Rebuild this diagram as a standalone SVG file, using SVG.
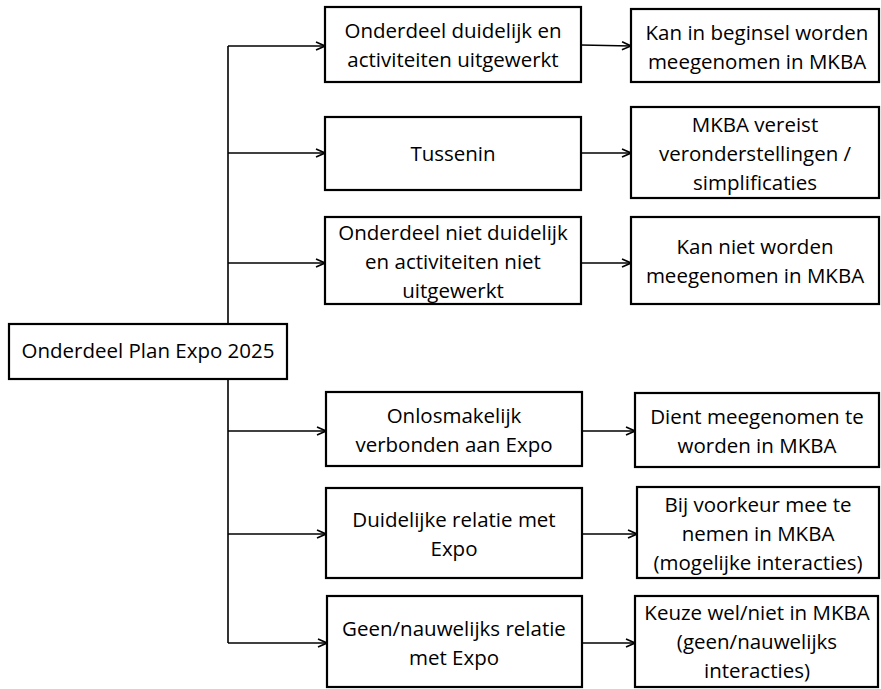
<svg xmlns="http://www.w3.org/2000/svg" width="881" height="689" viewBox="0 0 881 689">
<style>
.box{fill:#fff;stroke:#000;stroke-width:2.2}
.t{font-family:"Open Sans","Noto Sans",sans-serif;font-size:20.5px;fill:#000;text-anchor:middle}
.c{fill:none;stroke:#000;stroke-width:1.6}
</style>
<defs>
<marker id="ah" viewBox="0 0 10 10" refX="10" refY="5" markerWidth="10" markerHeight="10" markerUnits="userSpaceOnUse" orient="auto">
<path d="M1,1 L10,5 L1,9" fill="none" stroke="#000" stroke-width="1.6"/>
</marker>
</defs>
<rect width="881" height="689" fill="#fff"/>
<g id="connectors">
<path class="c" d="M228,46 V643"/>
<path class="c" d="M228,46 H325" marker-end="url(#ah)"/>
<path class="c" d="M228,153 H325" marker-end="url(#ah)"/>
<path class="c" d="M228,263 H325" marker-end="url(#ah)"/>
<path class="c" d="M228,431 H326" marker-end="url(#ah)"/>
<path class="c" d="M228,534 H326" marker-end="url(#ah)"/>
<path class="c" d="M228,643 H327" marker-end="url(#ah)"/>
<path class="c" d="M581,45 L631,46" marker-end="url(#ah)"/>
<path class="c" d="M581,153 H631" marker-end="url(#ah)"/>
<path class="c" d="M581,263 H631" marker-end="url(#ah)"/>
<path class="c" d="M582,431 H635" marker-end="url(#ah)"/>
<path class="c" d="M582,534 H637" marker-end="url(#ah)"/>
<path class="c" d="M582,643 H635" marker-end="url(#ah)"/>
</g>
<g id="root">
<rect class="box" x="9" y="324" width="278" height="55"/>
<text class="t" x="148" y="358">Onderdeel Plan Expo 2025</text>
</g>
<g id="m1">
<rect class="box" x="325" y="7" width="256" height="75"/>
<text class="t" x="453" y="38">Onderdeel duidelijk en</text>
<text class="t" x="453" y="67">activiteiten uitgewerkt</text>
</g>
<g id="m2">
<rect class="box" x="325" y="117" width="256" height="73"/>
<text class="t" x="453" y="161">Tussenin</text>
</g>
<g id="m3">
<rect class="box" x="325" y="217" width="256" height="87"/>
<text class="t" x="453" y="240">Onderdeel niet duidelijk</text>
<text class="t" x="453" y="269">en activiteiten niet</text>
<text class="t" x="453" y="298">uitgewerkt</text>
</g>
<g id="m4">
<rect class="box" x="326" y="392" width="256" height="74"/>
<text class="t" x="454" y="423">Onlosmakelijk</text>
<text class="t" x="454" y="452">verbonden aan Expo</text>
</g>
<g id="m5">
<rect class="box" x="326" y="488" width="256" height="90"/>
<text class="t" x="454" y="527">Duidelijke relatie met</text>
<text class="t" x="454" y="556">Expo</text>
</g>
<g id="m6">
<rect class="box" x="327" y="596" width="255" height="91"/>
<text class="t" x="454" y="636">Geen/nauwelijks relatie</text>
<text class="t" x="454" y="665">met Expo</text>
</g>
<g id="r1">
<rect class="box" x="631" y="9" width="248" height="73"/>
<text class="t" x="757" y="40">Kan in beginsel worden</text>
<text class="t" x="757" y="69">meegenomen in MKBA</text>
</g>
<g id="r2">
<rect class="box" x="631" y="107" width="248" height="91"/>
<text class="t" x="755" y="132">MKBA vereist</text>
<text class="t" x="755" y="161">veronderstellingen /</text>
<text class="t" x="755" y="190">simplificaties</text>
</g>
<g id="r3">
<rect class="box" x="631" y="217" width="248" height="87"/>
<text class="t" x="755" y="254">Kan niet worden</text>
<text class="t" x="755" y="283">meegenomen in MKBA</text>
</g>
<g id="r4">
<rect class="box" x="635" y="393" width="244" height="74"/>
<text class="t" x="757" y="424">Dient meegenomen te</text>
<text class="t" x="757" y="453">worden in MKBA</text>
</g>
<g id="r5">
<rect class="box" x="637" y="487" width="242" height="91"/>
<text class="t" x="758" y="512">Bij voorkeur mee te</text>
<text class="t" x="758" y="541">nemen in MKBA</text>
<text class="t" x="758" y="570">(mogelijke interacties)</text>
</g>
<g id="r6">
<rect class="box" x="635" y="596" width="243" height="91"/>
<text class="t" x="757" y="620">Keuze wel/niet in MKBA</text>
<text class="t" x="757" y="649">(geen/nauwelijks</text>
<text class="t" x="757" y="678">interacties)</text>
</g>
</svg>
